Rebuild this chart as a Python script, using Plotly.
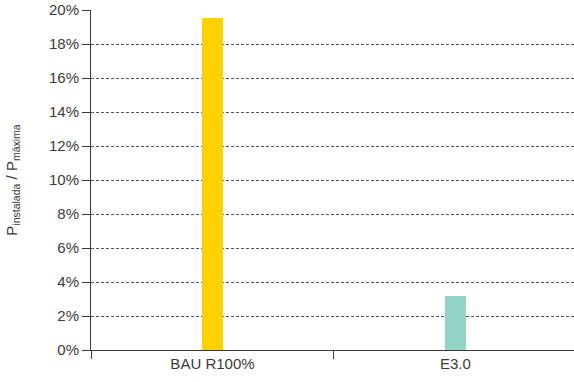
import plotly.graph_objects as go

# Dados
categorias = ['BAU R100%', 'E3.0']
valores = [19.55, 3.18]
cores = ['#FFD100', '#93D4C6']

fig = go.Figure()

fig.add_trace(go.Bar(x=categorias, y=valores, marker_color=cores,
                     marker_line_width=0, width=0.09))

fig.update_layout(
    width=574, height=382,
    margin=dict(l=91, r=0, t=10, b=32),
    plot_bgcolor='white', paper_bgcolor='white',
    font=dict(family='Liberation Sans, Arial, sans-serif', size=15, color='#3a3a3a'),
    showlegend=False,
    bargap=0,
)

fig.update_xaxes(range=[-0.5, 1.488], showline=True, linecolor='#3a3a3a', linewidth=1,
                 ticks='outside', tickson='boundaries', ticklen=8, tickcolor='#3a3a3a',
                 showgrid=False, tickfont=dict(size=15), automargin=False)

fig.update_yaxes(range=[0, 20], dtick=2, ticksuffix='%', showline=True,
                 linecolor='#3a3a3a', linewidth=1, ticks='outside', ticklen=8,
                 tickcolor='#3a3a3a', showgrid=True, gridcolor='#555555',
                 griddash='3px,2px', gridwidth=1, zeroline=False, automargin=False,
                 title=dict(text='P<sub>instalada</sub> / P<sub>máxima</sub>',
                            font=dict(size=15), standoff=27))

# tira a margem padrão do body para o gráfico ocupar a janela toda
fig.write_html("out.html", config={'displayModeBar': False},
               post_script="document.body.style.margin='0';")
